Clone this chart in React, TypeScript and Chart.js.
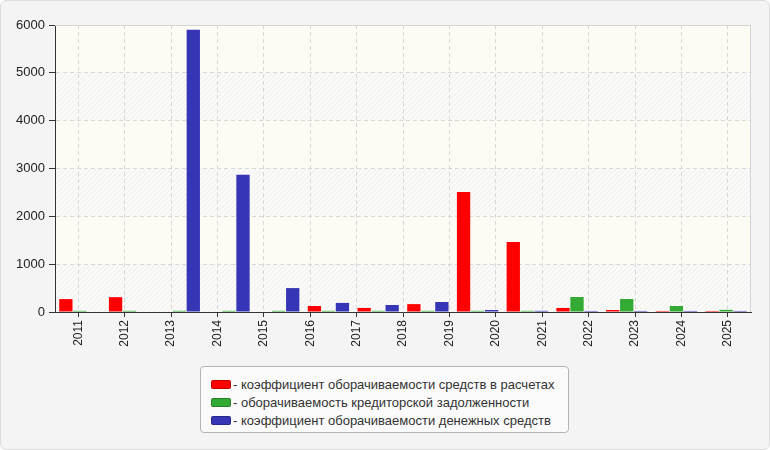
import { useEffect, useRef } from "react"
import { Chart, registerables } from "chart.js"

Chart.register(...registerables)

// bar groups (the source draws 14 groups under 15 year labels)
const groupLabels = ["2011", "2012", "2013", "2014", "2015", "2016", "2017", "2018", "2019", "2020", "2021", "2022", "2023", "2024"]
const yearLabels = ["2011", "2012", "2013", "2014", "2015", "2016", "2017", "2018", "2019", "2020", "2021", "2022", "2023", "2024", "2025"]

const seriesNames = [
  "- коэффициент оборачиваемости средств в расчетах",
  "- оборачиваемость кредиторской задолженности",
  "- коэффициент оборачиваемости денежных средств",
]
const seriesColors = ["#ff0000", "#33aa33", "#3535b5"]

const settlementsTurnover = [270, 310, 0, 0, 0, 125, 85, 165, 2510, 1465, 85, 42, 22, 22]
const payablesTurnover = [25, 25, 25, 25, 25, 25, 25, 25, 25, 25, 314, 272, 125, 45]
const cashTurnover = [0, 0, 5900, 2870, 500, 190, 146, 209, 42, 25, 22, 22, 22, 22]

const yMin = 0
const yMax = 6000
const yStep = 1000

const plotBackground = {
  id: "plotBackground",
  beforeDraw(chart: any) {
    const { ctx, chartArea: a, scales } = chart
    const y = scales.y
    ctx.save()
    ctx.fillStyle = "#fcfcf5"
    ctx.fillRect(a.left, a.top, a.width, a.height)

    const tile = document.createElement("canvas")
    tile.width = 5
    tile.height = 5
    const t = tile.getContext("2d")!
    t.fillStyle = "#fafaf9"
    t.fillRect(0, 0, 5, 5)
    t.strokeStyle = "#ededed"
    t.lineWidth = 1
    t.beginPath()
    t.moveTo(0, 5)
    t.lineTo(5, 0)
    t.moveTo(-1, 1)
    t.lineTo(1, -1)
    t.moveTo(4, 6)
    t.lineTo(6, 4)
    t.stroke()
    const pattern = ctx.createPattern(tile, "repeat")

    const ticks = y.ticks.map((tk: any) => tk.value)
    for (let i = 0; i < ticks.length - 1; i += 2) {
      const top = y.getPixelForValue(ticks[i + 1])
      const bottom = y.getPixelForValue(ticks[i])
      ctx.fillStyle = pattern
      ctx.fillRect(a.left, top, a.width, bottom - top)
    }
    ctx.restore()
  },
  beforeDatasetsDraw(chart: any) {
    const { ctx, chartArea: a } = chart
    ctx.save()
    ctx.strokeStyle = "#d4d4d4"
    ctx.lineWidth = 1
    ctx.beginPath()
    ctx.moveTo(a.left, a.top + 0.5)
    ctx.lineTo(a.right - 0.5, a.top + 0.5)
    ctx.lineTo(a.right - 0.5, a.bottom)
    ctx.stroke()
    ctx.restore()
  },
}

export default function App() {
  const chartRef = useRef<HTMLCanvasElement>(null)
  const chartInstance = useRef<Chart | null>(null)

  useEffect(() => {
    document.body.style.margin = "0"
    if (!chartRef.current) return
    if (chartInstance.current) chartInstance.current.destroy()

    Chart.defaults.font.family = "'Liberation Sans', Arial, sans-serif"
    Chart.defaults.font.size = 12
    Chart.defaults.color = "#222"

    const values = [settlementsTurnover, payablesTurnover, cashTurnover]

    chartInstance.current = new Chart(chartRef.current, {
      type: "bar",
      data: {
        labels: groupLabels,
        datasets: values.map((data, i) => ({
          label: seriesNames[i],
          data,
          backgroundColor: seriesColors[i],
          borderWidth: 0,
          xAxisID: "xb",
          barPercentage: 0.95,
          categoryPercentage: 0.845,
        })),
      },
      options: {
        responsive: false,
        devicePixelRatio: 1,
        animation: false,
        layout: { padding: { top: 25, right: 19, left: 0, bottom: 0 } },
        plugins: {
          legend: { display: false },
          tooltip: { enabled: false },
        },
        scales: {
          xb: {
            type: "category",
            display: false,
            offset: true,
            grid: { display: false },
          },
          x: {
            type: "category",
            position: "bottom",
            labels: yearLabels,
            offset: true,
            grid: {
              offset: false,
              color: "#d8d8d8",
              tickColor: "#333",
              tickLength: 5,
              tickBorderDash: [],
            } as any,
            border: { color: "#333", dash: [4, 3] },
            ticks: { minRotation: 90, maxRotation: 90, padding: 3, autoSkip: false, color: "#222" },
            afterFit: (s: any) => {
              s.height = 138
              s.paddingLeft = 0
              s.paddingRight = 0
            },
          },
          y: {
            min: yMin,
            max: yMax,
            grid: {
              color: "#d8d8d8",
              tickColor: "#333",
              tickLength: 6,
              tickBorderDash: [],
            } as any,
            border: { color: "#333", dash: [4, 3] },
            ticks: {
              stepSize: yStep,
              padding: 4,
              color: "#222",
              font: { size: 13 },
              callback: (v: any) => String(v),
            },
            afterFit: (s: any) => {
              s.width = 55
              s.paddingTop = 0
              s.paddingBottom = 0
            },
          },
        },
      },
      plugins: [plotBackground],
    })

    return () => {
      if (chartInstance.current) {
        chartInstance.current.destroy()
        chartInstance.current = null
      }
    }
  }, [])

  return (
    <div style={{ position: "relative", width: 770, height: 450, background: "#f4f4f4", borderRadius: 6, overflow: "hidden" }}>
      <canvas ref={chartRef} width={770} height={450} style={{ position: "absolute", left: 0, top: 0, width: 770, height: 450 }}></canvas>
      <div style={{ position: "absolute", inset: 0, border: "1px solid #dcdcdc", borderRadius: 6, pointerEvents: "none" }}></div>
      <div
        style={{
          position: "absolute",
          left: 200,
          top: 366,
          width: 369,
          height: 67,
          boxSizing: "border-box",
          border: "1px solid #b4b4b4",
          borderRadius: 4,
          background: "#fafafa",
          padding: "8px 0 0 10px",
          fontFamily: "'Liberation Sans', Arial, sans-serif",
          fontSize: 13,
          color: "#333",
        }}
      >
        {seriesNames.map((name, i) => (
          <div key={name} style={{ display: "flex", alignItems: "center", height: 18, whiteSpace: "nowrap" }}>
            <span
              style={{
                display: "inline-block",
                width: 18,
                height: 7,
                borderRadius: 2,
                background: seriesColors[i],
                border: "1px solid rgba(0,0,0,0.25)",
                marginRight: 2,
              }}
            ></span>
            <span>{name}</span>
          </div>
        ))}
      </div>
    </div>
  )
}
